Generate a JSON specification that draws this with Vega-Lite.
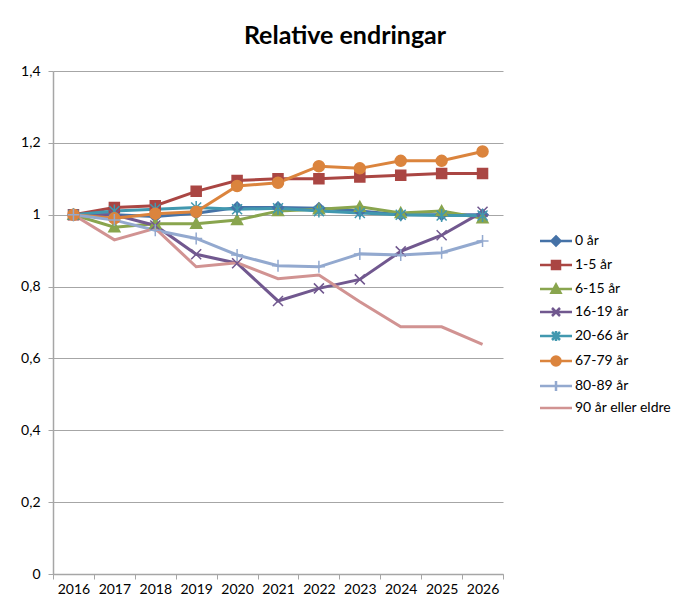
{
  "$schema": "https://vega.github.io/schema/vega-lite/v6.json",
  "width": 450,
  "height": 503,
  "autosize": "none",
  "padding": {"left": 53, "top": 71, "right": 177, "bottom": 32},
  "background": "white",
  "title": {
    "text": "Relative endringar",
    "font": "Lato",
    "fontSize": 25,
    "fontWeight": "bold",
    "color": "#000000",
    "anchor": "middle",
    "baseline": "alphabetic",
    "offset": 24,
    "dx": 67,
    "dy": 29
  },
  "config": {
    "view": {"stroke": null},
    "font": "Lato",
    "axis": {"labelFont": "Lato", "labelFontSize": 14, "labelColor": "#000000", "domainColor": "#a6a6a6", "tickColor": "#a6a6a6", "gridColor": "#a6a6a6", "title": null},
    "legend": {"labelFont": "Lato", "labelFontSize": 14, "labelColor": "#000000"}
  },
  "data": {
    "values": [
      {"year": "2016", "group": "0 år", "value": 1.0},
      {"year": "2017", "group": "0 år", "value": 1.0},
      {"year": "2018", "group": "0 år", "value": 0.995},
      {"year": "2019", "group": "0 år", "value": 1.004},
      {"year": "2020", "group": "0 år", "value": 1.02},
      {"year": "2021", "group": "0 år", "value": 1.02},
      {"year": "2022", "group": "0 år", "value": 1.018},
      {"year": "2023", "group": "0 år", "value": 1.01},
      {"year": "2024", "group": "0 år", "value": 1.0},
      {"year": "2025", "group": "0 år", "value": 1.0},
      {"year": "2026", "group": "0 år", "value": 1.0},
      {"year": "2016", "group": "1-5 år", "value": 1.0},
      {"year": "2017", "group": "1-5 år", "value": 1.02},
      {"year": "2018", "group": "1-5 år", "value": 1.025},
      {"year": "2019", "group": "1-5 år", "value": 1.065},
      {"year": "2020", "group": "1-5 år", "value": 1.095},
      {"year": "2021", "group": "1-5 år", "value": 1.1},
      {"year": "2022", "group": "1-5 år", "value": 1.1},
      {"year": "2023", "group": "1-5 år", "value": 1.105},
      {"year": "2024", "group": "1-5 år", "value": 1.11},
      {"year": "2025", "group": "1-5 år", "value": 1.115},
      {"year": "2026", "group": "1-5 år", "value": 1.115},
      {"year": "2016", "group": "6-15 år", "value": 1.0},
      {"year": "2017", "group": "6-15 år", "value": 0.965},
      {"year": "2018", "group": "6-15 år", "value": 0.975},
      {"year": "2019", "group": "6-15 år", "value": 0.975},
      {"year": "2020", "group": "6-15 år", "value": 0.985},
      {"year": "2021", "group": "6-15 år", "value": 1.01},
      {"year": "2022", "group": "6-15 år", "value": 1.015},
      {"year": "2023", "group": "6-15 år", "value": 1.022},
      {"year": "2024", "group": "6-15 år", "value": 1.005},
      {"year": "2025", "group": "6-15 år", "value": 1.01},
      {"year": "2026", "group": "6-15 år", "value": 0.99},
      {"year": "2016", "group": "16-19 år", "value": 1.0},
      {"year": "2017", "group": "16-19 år", "value": 1.0},
      {"year": "2018", "group": "16-19 år", "value": 0.97},
      {"year": "2019", "group": "16-19 år", "value": 0.89},
      {"year": "2020", "group": "16-19 år", "value": 0.865},
      {"year": "2021", "group": "16-19 år", "value": 0.76},
      {"year": "2022", "group": "16-19 år", "value": 0.795},
      {"year": "2023", "group": "16-19 år", "value": 0.82},
      {"year": "2024", "group": "16-19 år", "value": 0.898},
      {"year": "2025", "group": "16-19 år", "value": 0.943},
      {"year": "2026", "group": "16-19 år", "value": 1.008},
      {"year": "2016", "group": "20-66 år", "value": 1.0},
      {"year": "2017", "group": "20-66 år", "value": 1.01},
      {"year": "2018", "group": "20-66 år", "value": 1.015},
      {"year": "2019", "group": "20-66 år", "value": 1.02},
      {"year": "2020", "group": "20-66 år", "value": 1.015},
      {"year": "2021", "group": "20-66 år", "value": 1.018},
      {"year": "2022", "group": "20-66 år", "value": 1.01},
      {"year": "2023", "group": "20-66 år", "value": 1.005},
      {"year": "2024", "group": "20-66 år", "value": 1.0},
      {"year": "2025", "group": "20-66 år", "value": 0.998},
      {"year": "2026", "group": "20-66 år", "value": 0.998},
      {"year": "2016", "group": "67-79 år", "value": 1.0},
      {"year": "2017", "group": "67-79 år", "value": 0.99},
      {"year": "2018", "group": "67-79 år", "value": 1.003},
      {"year": "2019", "group": "67-79 år", "value": 1.008},
      {"year": "2020", "group": "67-79 år", "value": 1.08},
      {"year": "2021", "group": "67-79 år", "value": 1.089},
      {"year": "2022", "group": "67-79 år", "value": 1.135},
      {"year": "2023", "group": "67-79 år", "value": 1.129},
      {"year": "2024", "group": "67-79 år", "value": 1.15},
      {"year": "2025", "group": "67-79 år", "value": 1.15},
      {"year": "2026", "group": "67-79 år", "value": 1.176},
      {"year": "2016", "group": "80-89 år", "value": 1.0},
      {"year": "2017", "group": "80-89 år", "value": 0.985},
      {"year": "2018", "group": "80-89 år", "value": 0.957},
      {"year": "2019", "group": "80-89 år", "value": 0.934},
      {"year": "2020", "group": "80-89 år", "value": 0.888},
      {"year": "2021", "group": "80-89 år", "value": 0.858},
      {"year": "2022", "group": "80-89 år", "value": 0.855},
      {"year": "2023", "group": "80-89 år", "value": 0.891},
      {"year": "2024", "group": "80-89 år", "value": 0.888},
      {"year": "2025", "group": "80-89 år", "value": 0.894},
      {"year": "2026", "group": "80-89 år", "value": 0.927},
      {"year": "2016", "group": "90 år eller eldre", "value": 1.0},
      {"year": "2017", "group": "90 år eller eldre", "value": 0.93},
      {"year": "2018", "group": "90 år eller eldre", "value": 0.962},
      {"year": "2019", "group": "90 år eller eldre", "value": 0.855},
      {"year": "2020", "group": "90 år eller eldre", "value": 0.866},
      {"year": "2021", "group": "90 år eller eldre", "value": 0.822},
      {"year": "2022", "group": "90 år eller eldre", "value": 0.832},
      {"year": "2023", "group": "90 år eller eldre", "value": 0.758},
      {"year": "2024", "group": "90 år eller eldre", "value": 0.688},
      {"year": "2025", "group": "90 år eller eldre", "value": 0.688},
      {"year": "2026", "group": "90 år eller eldre", "value": 0.639}
    ]
  },
  "encoding": {
    "x": {
      "field": "year",
      "type": "ordinal",
      "scale": {"type": "band", "paddingInner": 0, "paddingOuter": 0},
      "axis": {"labelAngle": 0, "tickBand": "extent", "tickSize": 5, "labelPadding": 3, "grid": false, "domainWidth": 1.5}
    },
    "y": {
      "field": "value",
      "type": "quantitative",
      "scale": {"domain": [0, 1.4], "nice": false, "zero": true},
      "axis": {"values": [0, 0.2, 0.4, 0.6, 0.8, 1.0, 1.2, 1.4], "labelExpr": "replace(format(datum.value, '~g'), '.', ',')", "tickSize": 5, "labelPadding": 8, "grid": true, "domainWidth": 1.5}
    },
    "color": {
      "field": "group",
      "type": "nominal",
      "scale": {
        "domain": ["0 år", "1-5 år", "6-15 år", "16-19 år", "20-66 år", "67-79 år", "80-89 år", "90 år eller eldre"],
        "range": ["#4572A7", "#AA4643", "#89A54E", "#71588F", "#4198AF", "#DB843D", "#93A9CF", "#D19392"]
      },
      "legend": {
        "orient": "none",
        "legendX": 496,
        "legendY": 163,
        "title": null,
        "padding": 0,
        "symbolSize": 100,
        "labelOffset": 12,
        "rowPadding": 5,
        "symbolStrokeWidth": 2.5,
        "encoding": {
          "symbols": {
            "shape": {"value": {"expr": "datum.value === '0 år' ? 'M-3.2,0H3.2M0,-0.9L0.9,0L0,0.9L-0.9,0Z' : datum.value === '1-5 år' ? 'M-3.2,0H3.2M-0.8,-0.8H0.8V0.8H-0.8Z' : datum.value === '6-15 år' ? 'M-3.2,0H3.2M0,-0.9L0.9,0.75H-0.9Z' : datum.value === '16-19 år' ? 'M-3.2,0H3.2M-0.8,-0.8L0.8,0.8M0.8,-0.8L-0.8,0.8' : datum.value === '20-66 år' ? 'M-3.2,0H3.2M-0.8,-0.8L0.8,0.8M0.8,-0.8L-0.8,0.8M0,-1V1' : datum.value === '67-79 år' ? 'M-3.2,0H3.2M-0.9,0A0.9,0.9 0 1,1 0.9,0A0.9,0.9 0 1,1 -0.9,0Z' : datum.value === '80-89 år' ? 'M-3.2,0H3.2M0,-1V1' : 'M-3.2,0H3.2'"}},
            "fill": {"value": {"expr": "scale('color', datum.value)"}},
            "stroke": {"value": {"expr": "scale('color', datum.value)"}},
            "strokeWidth": {"value": 2.5},
            "opacity": {"value": 1}
          }
        }
      }
    }
  },
  "layer": [
    {
      "mark": {"type": "line", "strokeWidth": 3},
      "encoding": {"detail": {"field": "group"}}
    },
    {
      "transform": [{"filter": "datum.group !== '90 år eller eldre'"}],
      "mark": {"type": "point", "filled": true, "size": 100, "strokeWidth": 1.5, "opacity": 1},
      "encoding": {
        "stroke": {
          "field": "group",
          "type": "nominal",
          "scale": {
            "domain": ["0 år", "1-5 år", "6-15 år", "16-19 år", "20-66 år", "67-79 år", "80-89 år", "90 år eller eldre"],
            "range": ["#4572A7", "#AA4643", "#89A54E", "#71588F", "#4198AF", "#DB843D", "#93A9CF", "#D19392"]
          },
          "legend": null
        },
        "shape": {
          "field": "group",
          "type": "nominal",
          "scale": {
            "domain": ["0 år", "1-5 år", "6-15 år", "16-19 år", "20-66 år", "67-79 år", "80-89 år"],
            "range": ["M0,-1.1L1.1,0L0,1.1L-1.1,0Z", "M-1,-1H1V1H-1Z", "M0,-1.1L1.1,0.9H-1.1Z", "M-1,-1L1,1M1,-1L-1,1", "M-1,-1L1,1M1,-1L-1,1M0,-1.3V1.3", "M-1.1,0A1.1,1.1 0 1,1 1.1,0A1.1,1.1 0 1,1 -1.1,0Z", "M-1.2,0H1.2M0,-1.2V1.2"]
          },
          "legend": null
        }
      }
    }
  ]
}
